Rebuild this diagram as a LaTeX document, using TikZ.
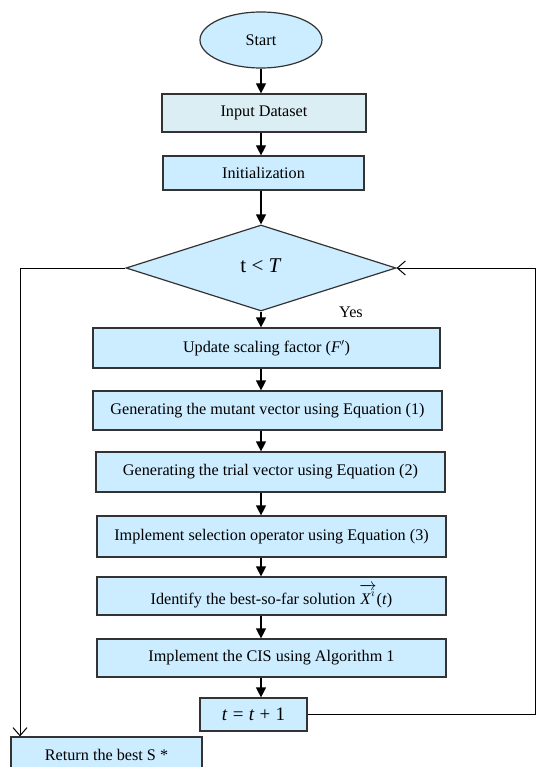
\documentclass[tikz,border=0pt]{standalone}
\usepackage{fontspec}
\setmainfont{Liberation Serif}
\usetikzlibrary{shapes.geometric,arrows.meta}
\definecolor{boxfill}{HTML}{CCECFF}
\definecolor{inputfill}{HTML}{DBEEF4}
\definecolor{edge}{HTML}{333333}
\tikzset{
  every node/.style={font=\fontsize{16.2}{18}\selectfont, inner sep=0pt},
  procbox/.style={draw=edge, line width=1.2pt, fill=boxfill, rectangle, align=center},
  startshape/.style={draw=edge, line width=1.2pt, fill=boxfill, ellipse},
  decide/.style={draw=edge, line width=1.2pt, fill=boxfill, diamond, aspect=3.1},
  arr/.style={draw=black, line width=1.2pt, -{Triangle[width=10pt,length=10pt]}},
  openarr/.style={draw=black, line width=1pt, -{Straight Barb[width=14pt,length=8pt,line width=1pt]}},
}
\begin{document}
\begin{tikzpicture}[x=1pt,y=-1pt]
\useasboundingbox (0,0) rectangle (536,767);
\clip (0,0) rectangle (536,767);
\node[startshape, minimum width=122pt, minimum height=56pt] (start) at (261,40) {Start};
\node[procbox, fill=inputfill, minimum width=204pt, minimum height=38pt] (input) at (264,113) {Input Dataset};
\node[procbox, minimum width=201pt, minimum height=34pt] (init) at (263.5,173) {Initialization};
\node[decide, minimum width=270pt, minimum height=86pt] (dia) at (261,268) {};
\node[font=\fontsize{21}{23}\selectfont] (cond) at (261,266) {t < \textit{T}};
\node[procbox, minimum width=347pt, minimum height=40pt] (upd) at (266.5,348) {Update scaling factor (\textit{F}$'$)};
\node[procbox, minimum width=349pt, minimum height=39pt] (mut) at (267.5,410.5) {Generating the mutant vector using Equation (1)};
\node[procbox, minimum width=349pt, minimum height=40pt] (trial) at (270.5,472) {Generating the trial vector using Equation (2)};
\node[procbox, minimum width=349pt, minimum height=41pt] (sel) at (271.5,536.5) {Implement selection operator using Equation (3)};
\node[procbox, minimum width=349pt, minimum height=38pt] (best) at (271.5,596) {Identify the best-so-far solution $\overrightarrow{\hbox{\textit{X}}^{i}}$(\textit{t})};
\node[procbox, minimum width=349pt, minimum height=38pt] (cis) at (271.5,658) {Implement the CIS using Algorithm 1};
\node[procbox, minimum width=107pt, minimum height=33pt, font=\fontsize{19}{21}\selectfont] (inc) at (253.5,714.5) {\textit{t}\;=\;\textit{t}\;+\;1};
\node[procbox, minimum width=191pt, minimum height=35pt] (ret) at (106.5,754.5) {Return the best S *};
\node (yes) at (351,312) {Yes};
\coordinate (ax) at (261,0);
\draw[arr] (start.south -| ax) -- (input.north -| ax);
\draw[arr] (input.south -| ax) -- (init.north -| ax);
\draw[arr] (init.south -| ax) -- (dia.north -| ax);
\draw[arr] (dia.south) -- (upd.north -| dia.south);
\draw[arr] (upd.south -| ax) -- (mut.north -| ax);
\draw[arr] (mut.south -| ax) -- (trial.north -| ax);
\draw[arr] (trial.south -| ax) -- (sel.north -| ax);
\draw[arr] (sel.south -| ax) -- (best.north -| ax);
\draw[arr] (best.south -| ax) -- (cis.north -| ax);
\draw[arr] (cis.south -| ax) -- (inc.north -| ax);
\coordinate (L) at (20,268);
\coordinate (R) at (535.5,268);
\draw[openarr] (dia.west) -- (L) -- (L |- ret.north);
\draw[openarr] (inc.east) -- (inc.east -| R) -- (R) -- (dia.east);
\end{tikzpicture}
\end{document}
